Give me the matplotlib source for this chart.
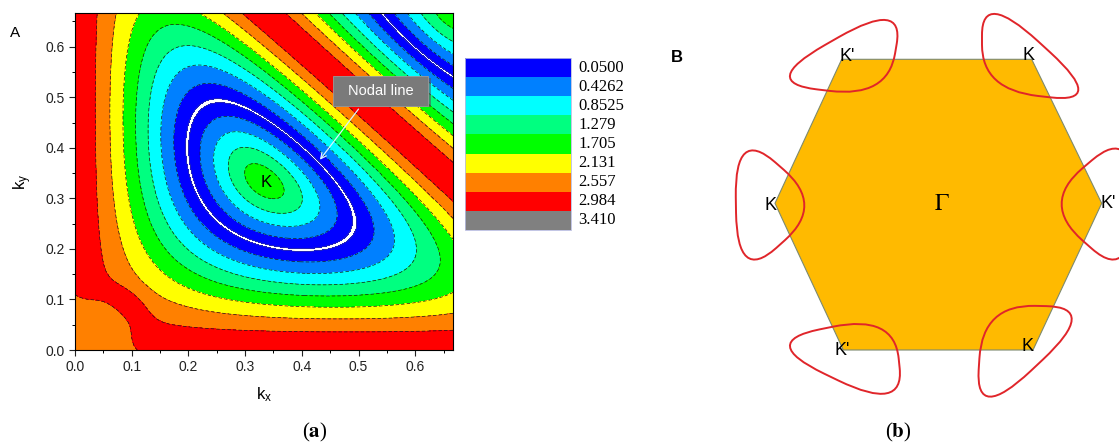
import numpy as np
import matplotlib
matplotlib.use("Agg")
import matplotlib.pyplot as plt
from matplotlib.colors import ListedColormap, BoundaryNorm
from matplotlib.patches import Polygon, Rectangle, PathPatch
from matplotlib.path import Path

plt.rcParams['font.family'] = ['Liberation Sans', 'DejaVu Sans']
plt.rcParams['mathtext.fontset'] = 'stix'

# ---------------------------------------------------------------
# panel (a): contour levels, colours, ticks
levels = [0.05, 0.4262, 0.8525, 1.279, 1.705, 2.131, 2.557, 2.984, 3.410]
level_labels = ['0.0500', '0.4262', '0.8525', '1.279', '1.705',
                '2.131', '2.557', '2.984', '3.410']
band_colors = ['#0000FF', '#0080FF', '#00FFFF', '#00FF80', '#00FF00',
               '#FFFF00', '#FF8000', '#FF0000', '#808080']
nodal_color = '#FFFFFF'
k_max = 2.0 / 3.0
x_ticks = [0.0, 0.1, 0.2, 0.3, 0.4, 0.5, 0.6]
y_ticks = [0.0, 0.1, 0.2, 0.3, 0.4, 0.5, 0.6]

# gap model
v_edge = 3.33      # value on the Gamma-M lines
ring_q = 0.2926    # where the nodal ring sits
sat_q = 1.0        # where the gap saturates towards the edges
inner_gain = 1.1   # steeper inside the nodal ring
tip_q = 0.03       # rounding of the cone at K
mean_p = 0.7
gamma_dip = 0.63   # lower gap right at Gamma
gamma_w2 = 0.01435
gamma_aniso = 2.257
ridge_h = 0.25     # small ridge around Gamma along the diagonal
ridge_r = 0.14
ridge_s = 0.025


def smoothstep(a, b, x):
    s = np.clip((x - a) / (b - a), 0, 1)
    return s * s * (3 - 2 * s)


# panel (b): hexagon corners (pixels), labels, nodal loops
hex_x = [841.7, 1031.7, 1101.7, 1033.0, 843.3, 775.0]
hex_y = [59.3, 59.3, 203.3, 350.0, 350.0, 203.3]
corner_labels = ["K'", "K", "K'", "K", "K'", "K"]
label_x = [846.7, 1028.3, 1108.3, 1027.3, 841.7, 770.7]
label_y = [56.7, 56.0, 203.3, 346.7, 350.7, 205.7]
loops = [
    [(768.5, 80.3), (898.7, 5.8), (883.8, 93.9)],
    [(986.2, -2.8), (1097.9, 99.4), (986.2, 86.7)],
    [(1047.0, 203.8), (1130.7, 132.8), (1130.7, 277.4)],
    [(986.5, 308.8), (1090.5, 311.1), (979.7, 415.1)],
    [(767.8, 343.3), (889.9, 318.5), (898.9, 406.6)],
    [(737.8, 134.9), (740.0, 275.1), (818.2, 205.0)],
]


def gap_field(kx, ky):
    # smooth distance from the Gamma-M lines (kx=0, ky=0, kx+ky=1)
    u1 = np.abs(np.sin(np.pi * kx)) + 1e-9
    u2 = np.abs(np.sin(np.pi * ky)) + 1e-9
    u3 = np.abs(np.sin(np.pi * (kx + ky))) + 1e-9
    d = ((u1 ** -mean_p + u2 ** -mean_p + u3 ** -mean_p) / 3.0) ** (-1.0 / mean_p)
    d_k = np.sin(np.pi / 3)
    q = np.sqrt(np.clip(1 - d / d_k, 0, 1))
    q = np.sqrt(q ** 2 + tip_q ** 2)
    t = np.clip((q - ring_q) / (sat_q - ring_q), -1, 1)
    w = v_edge * np.sin(0.5 * np.pi * t)
    w = np.where(w < 0, inner_gain * w, w)
    r2 = kx ** 2 + ky ** 2
    dip = gamma_dip * np.exp(-(r2 / gamma_w2) ** 3) * np.clip(1 - gamma_aniso * d, 0, 1)
    diag = (2 * kx * ky / (r2 + 1e-12)) ** 4
    ridge = ridge_h * np.exp(-((np.sqrt(r2) - ridge_r) / ridge_s) ** 2) \
        * smoothstep(0.15, 0.30, d) * diag
    return np.abs(w - dip + ridge)


def rounded_triangle(verts, f=0.45, spread=1.113):
    v = np.array(verts, dtype=float)
    g = v.mean(axis=0)
    v = g + spread * (v - g)
    pts, codes = [], []
    for i in range(3):
        prev, cur, nxt = v[i - 1], v[i], v[(i + 1) % 3]
        p_in = cur + f * (prev - cur)
        p_out = cur + f * (nxt - cur)
        pts.append(p_in)
        codes.append(Path.MOVETO if i == 0 else Path.LINETO)
        pts += [cur, p_out]
        codes += [Path.CURVE3, Path.CURVE3]
    pts.append(pts[0])
    codes.append(Path.LINETO)
    return Path(pts, codes)


fig = plt.figure(figsize=(11.19, 4.48), dpi=100)

# overlay in pixel coordinates for panel (b), legend and captions
over = fig.add_axes([0, 0, 1, 1])
over.set_xlim(0, 1119)
over.set_ylim(448, 0)
over.axis('off')

over.add_patch(Polygon(list(zip(hex_x, hex_y)), closed=True,
                       facecolor='#FFBA00', edgecolor='#7d8a6e', lw=0.8))
for tri in loops:
    over.add_patch(PathPatch(rounded_triangle(tri), facecolor='none',
                             edgecolor='#E0252A', lw=1.4))
for lab, lx, ly in zip(corner_labels, label_x, label_y):
    over.text(lx, ly, lab, fontsize=13, ha='center', va='center')
over.text(941.7, 204, r'$\Gamma$', fontsize=17, ha='center', va='center')
over.text(677, 57, 'B', fontsize=12, fontweight='bold', ha='center', va='center')
over.text(15, 33, 'A', fontsize=11, ha='center', va='center')
over.text(315, 432, r'($\mathbf{a}$)', fontsize=15, ha='center', va='center',
          family='Liberation Serif')
over.text(898, 432, r'($\mathbf{b}$)', fontsize=15, ha='center', va='center',
          family='Liberation Serif')

# legend blocks next to panel (a)
leg_top, leg_h = 58.0, 172.0 / len(levels)
for i, (c, lab) in enumerate(zip(band_colors, level_labels)):
    y0 = leg_top + i * leg_h
    over.add_patch(Rectangle((465, y0), 106, leg_h, facecolor=c, edgecolor='none'))
    over.text(578, y0 + leg_h / 2, lab, fontsize=12, ha='left', va='center',
              family='Liberation Serif')
over.add_patch(Rectangle((465, leg_top), 106, 172, facecolor='none',
                         edgecolor='#b8bce0', lw=0.6))

# panel (a)
ax = fig.add_axes([75 / 1119, 98 / 448, 378 / 1119, 337 / 448])
kx = np.linspace(0, k_max, 700)
ky = np.linspace(0, k_max, 700)
KX, KY = np.meshgrid(kx, ky)
V = gap_field(KX, KY)

bounds = [0.0] + levels + [20.0]
cmap = ListedColormap([nodal_color] + band_colors)
norm = BoundaryNorm(bounds, cmap.N)
ax.contourf(KX, KY, V, levels=bounds, cmap=cmap, norm=norm)
ax.contour(KX, KY, V, levels=levels[1:], colors='#1a1a1a', linewidths=0.5,
           linestyles=[(0, (5, 3))])
ax.contour(KX, KY, V, levels=[levels[0]], colors='#555555', linewidths=0.3)

ax.set_xlim(0, k_max)
ax.set_ylim(0, k_max)
ax.set_xticks(x_ticks)
ax.set_yticks(y_ticks)
ax.set_xticklabels([f'{t:.1f}' for t in x_ticks])
ax.set_yticklabels([f'{t:.1f}' for t in y_ticks])
ax.set_xticks(np.arange(0.05, k_max, 0.1), minor=True)
ax.set_yticks(np.arange(0.05, k_max, 0.1), minor=True)
ax.tick_params(which='major', direction='out', length=4, width=0.8,
               labelsize=10, colors='#222222')
ax.tick_params(which='minor', direction='out', length=2.5, width=0.7)
ax.set_xlabel(r'$\mathregular{k_x}$', fontsize=12, labelpad=8)
ax.set_ylabel(r'$\mathregular{k_y}$', fontsize=12, labelpad=8)

ax.text(0.338, 0.331, 'K', fontsize=12, ha='center', va='center')
ax.add_patch(Rectangle((0.459, 0.480), 0.168, 0.059, facecolor='#555555',
                       edgecolor='none', alpha=0.6, zorder=4))
ax.add_patch(Rectangle((0.455, 0.483), 0.168, 0.059, facecolor='#7a7a7a',
                       edgecolor='#9a9a9a', lw=0.6, zorder=5))
ax.text(0.539, 0.5125, 'Nodal line', color='white', fontsize=10.5,
        ha='center', va='center', zorder=6)
ax.annotate('', xy=(0.429, 0.372), xytext=(0.503, 0.481),
            arrowprops=dict(arrowstyle='->', color='#d8f4ff', lw=0.9), zorder=6)

fig.savefig('out.png', dpi=100)
